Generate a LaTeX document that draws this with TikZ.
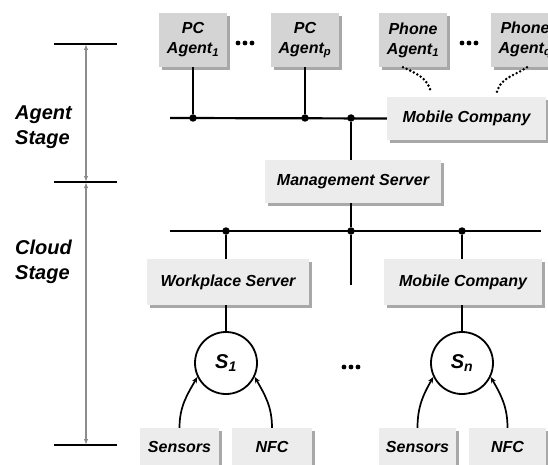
\documentclass[tikz,border=0pt]{standalone}
\usepackage{fontspec}
\setmainfont{Liberation Sans}
\usetikzlibrary{shadows,arrows.meta}
\definecolor{boxdark}{HTML}{D4D4D4}
\definecolor{boxlight}{HTML}{ECECEC}
\definecolor{shadowgray}{HTML}{A8A8A8}
\definecolor{stagegray}{HTML}{8C8C8C}
\begin{document}
\begin{tikzpicture}[x=1pt,y=-1pt,
  boxbase/.style={inner sep=0pt, align=center,
    font=\fontsize{16}{20}\selectfont\bfseries\itshape,
    drop shadow={shadow xshift=3pt,shadow yshift=-3pt,fill=shadowgray,opacity=1}},
  agentbox/.style={boxbase, fill=boxdark, minimum width=68pt, minimum height=54pt},
  srvbox/.style={boxbase, fill=boxlight, minimum height=#1},
  srvbox/.default=44pt,
  circnode/.style={circle, draw, line width=1.8pt, fill=white, minimum size=62pt, inner sep=0pt,
    font=\fontsize{20}{24}\selectfont\bfseries\itshape},
  stagelabel/.style={anchor=west, inner sep=0pt, align=left,
    font=\fontsize{20}{25}\selectfont\bfseries\itshape},
  bus/.style={line width=2.2pt},
  link/.style={line width=2.2pt},
  junction/.style={circle, fill=black, inner sep=0pt, minimum size=7.5pt},
  tick/.style={line width=2pt},
  stagearrow/.style={draw=stagegray, line width=1.3pt, {Latex[length=6pt,width=4.5pt]}-{Latex[length=6pt,width=4.5pt]}},
  dotline/.style={line width=2.8pt, line cap=round, dash pattern=on 0pt off 4pt},
  sensarrow/.style={line width=1.7pt, -{Stealth[length=6pt,width=5pt]}},
  ell/.style={circle, fill=black, inner sep=0pt, minimum size=4.8pt}
]
\useasboundingbox (0,0) rectangle (548,465);
\clip (0,0) rectangle (548,465);

% ---- stage scale ----
\coordinate (t0) at (86,44);
\coordinate (t1) at (86,182);
\coordinate (t2) at (86,445);
\draw[tick] (54,44) -- (117,44);
\draw[tick] (54,182) -- (117,182);
\draw[tick] (54,445) -- (117,445);
\draw[stagearrow] (t0) -- (t1);
\draw[stagearrow] (t1) -- (t2);
\node[stagelabel] (agentstage) at (15,127) {Agent\\Stage};
\node[stagelabel] (cloudstage) at (15,262) {Cloud\\Stage};

% ---- agents ----
\node[agentbox] (pc1) at (193,40) {PC\\Agent\textsubscript{1}};
\node[agentbox] (pcp) at (305,40) {PC\\Agent\textsubscript{p}};
\node[agentbox] (ph1) at (413,40) {Phone\\Agent\textsubscript{1}};
\node[agentbox] (phq) at (525,40) {Phone\\Agent\textsubscript{q}};
\foreach \n/\x in {ea/245, eb/469}{
  \node[ell] (\n1) at (\x-7,43) {};
  \node[ell] (\n2) at (\x,43) {};
  \node[ell] (\n3) at (\x+7,43) {};
}

\node[srvbox=43pt, minimum width=159pt] (mob1) at (466.5,118.5) {Mobile Company};
\node[srvbox=43pt, minimum width=176pt] (mgmt) at (353,181.5) {Management Server};

% agent bus
\coordinate (abL) at (170,118);
\node[junction] (j1) at (193,118) {};
\node[junction] (j2) at (305,118) {};
\node[junction] (j3) at (351,118) {};
\draw[bus] (abL) -- (mob1.west);
\draw[link] (pc1.south) -- (j1);
\draw[link] (pcp.south) -- (j2);
\draw[link] (j3) -- (j3 |- mgmt.north);

% dotted phone links
\draw[dotline] ([xshift=-10pt]ph1.south) to[out=-25,in=105] ([xshift=-35.5pt,yshift=5pt]mob1.north);
\draw[dotline] ([xshift=2pt]phq.south) to[out=-145,in=75] ([xshift=30.5pt,yshift=5pt]mob1.north);

% cloud bus
\coordinate (cbL) at (170,231);
\coordinate (cbR) at (541,231);
\node[junction] (k1) at (226,231) {};
\node[junction] (k2) at (351,231) {};
\node[junction] (k3) at (462,231) {};
\coordinate (freeend) at (351,285);
\draw[bus] (cbL) -- (cbR);
\draw[link] (k2 |- mgmt.south) -- (k2);
\draw[link] (k2) -- (freeend);

\node[srvbox=46pt, minimum width=162pt] (wps) at (228,282) {Workplace Server};
\node[srvbox=46pt, minimum width=158pt] (mob2) at (463,282) {Mobile Company};
\draw[link] (k1) -- (k1 |- wps.north);
\draw[link] (k3) -- (k3 |- mob2.north);

\node[circnode] (s1) at (226,363) {S\textsubscript{1}};
\node[circnode] (sn) at (462,363) {S\textsubscript{n}};
\draw[link] (s1 |- wps.south) -- (s1.north);
\draw[link] (sn |- mob2.south) -- (sn.north);

\node[ell] (ec1) at (344,367) {};
\node[ell] (ec2) at (351,367) {};
\node[ell] (ec3) at (358,367) {};

% sensors
\node[srvbox=38pt, minimum width=79pt] (sens1) at (179.5,447) {Sensors};
\node[srvbox=38pt, minimum width=80pt] (nfc1) at (272,447) {NFC};
\node[srvbox=38pt, minimum width=77pt] (sens2) at (417.5,447) {Sensors};
\node[srvbox=38pt, minimum width=77pt] (nfc2) at (507.5,447) {NFC};

\draw[sensarrow] (sens1.north) to[out=90,in=240] (s1.206);
\draw[sensarrow] (nfc1.north) to[out=90,in=300] (s1.334);
\draw[sensarrow] (sens2.north) to[out=90,in=240] (sn.206);
\draw[sensarrow] (nfc2.north) to[out=90,in=300] (sn.334);
\end{tikzpicture}
\end{document}
